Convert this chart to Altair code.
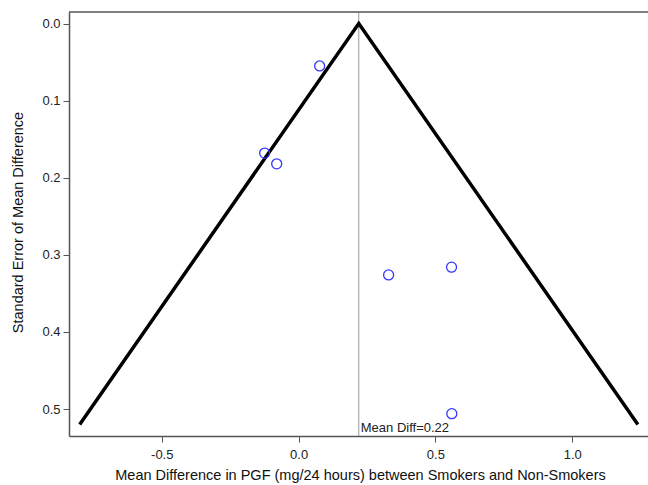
import altair as alt
import pandas as pd

# Study estimates (mean difference, standard error)
study_md = [0.077, -0.124, -0.080, 0.329, 0.559, 0.560]
study_se = [0.055, 0.168, 0.182, 0.326, 0.316, 0.506]

# Pooled mean difference and pseudo-confidence funnel
mean_diff = 0.22
funnel_md = [-0.80, 0.22, 1.24]
funnel_se = [0.52, 0.0, 0.52]

x_ticks = [-0.5, 0.0, 0.5, 1.0]
y_ticks = [0.0, 0.1, 0.2, 0.3, 0.4, 0.5]

FONT = "Liberation Sans"
X_DOM = [-0.839, 1.277]
Y_DOM = [-0.015, 0.535]
FRAME = "#555555"

pts = pd.DataFrame({"md": study_md, "se": study_se})
fun = pd.DataFrame({"md": funnel_md, "se": funnel_se, "o": list(range(len(funnel_md)))})
mean_df = pd.DataFrame({"md": [mean_diff], "label": [f"Mean Diff={mean_diff:.2f}"]})

xs = alt.Scale(domain=X_DOM, nice=False, zero=False)
ys = alt.Scale(domain=Y_DOM, nice=False, zero=False, reverse=True)

x_axis = alt.Axis(
    values=x_ticks, format=".1f", labelExpr="replace(datum.label, '\u2212', '-')",
    title="Mean Difference in PGF (mg/24 hours) between Smokers and Non-Smokers",
    grid=False, domain=True, domainColor=FRAME, domainWidth=1.5,
    tickSize=6, tickColor=FRAME, labelPadding=6,
    labelFontSize=13, titleFontSize=14.5, titleFontWeight="normal", titlePadding=7,
    labelColor="#222", titleColor="#111", labelFont=FONT, titleFont=FONT,
    titleX=291, titleAnchor="middle",
)
y_axis = alt.Axis(
    values=y_ticks, format=".1f",
    title="Standard Error of Mean Difference",
    grid=False, domain=True, domainColor=FRAME, domainWidth=1.5,
    tickSize=6, tickColor=FRAME, labelPadding=3,
    labelFontSize=13, titleFontSize=14.5, titleFontWeight="normal",
    labelColor="#222", titleColor="#111", labelFont=FONT, titleFont=FONT,
    titleX=-51, titleY=210, titleAngle=-90, titleAlign="center", titleBaseline="middle",
)

funnel = alt.Chart(fun).mark_line(color="black", strokeWidth=3.5).encode(
    x=alt.X("md:Q", scale=xs, axis=x_axis),
    y=alt.Y("se:Q", scale=ys, axis=y_axis),
    order="o:Q",
)

top_border = alt.Chart(mean_df).mark_rule(color=FRAME, strokeWidth=1.5).encode(
    y=alt.datum(Y_DOM[0], scale=ys),
)

vline = alt.Chart(mean_df).mark_rule(color="#999999", strokeWidth=1).encode(
    x=alt.X("md:Q", scale=xs),
)

label = alt.Chart(mean_df).mark_text(
    align="left", baseline="alphabetic", dx=2, dy=-4, fontSize=13, font=FONT, color="#222"
).encode(
    x=alt.X("md:Q", scale=xs),
    y=alt.datum(Y_DOM[1]),
    text="label:N",
)

points = alt.Chart(pts).mark_point(
    shape="circle", filled=False, color="#3535ff", opacity=1, size=100, strokeWidth=1.3
).encode(
    x=alt.X("md:Q", scale=xs),
    y=alt.Y("se:Q", scale=ys),
)

chart = alt.layer(vline, top_border, funnel, points, label).properties(
    width=579, height=424,
    autosize=alt.AutoSizeParams(type="none"),
    padding={"left": 69, "top": 12, "right": 0, "bottom": 49},
    background="white",
).configure_view(stroke=None)

chart.save("out.html", embed_options={"renderer": "svg", "actions": False})
